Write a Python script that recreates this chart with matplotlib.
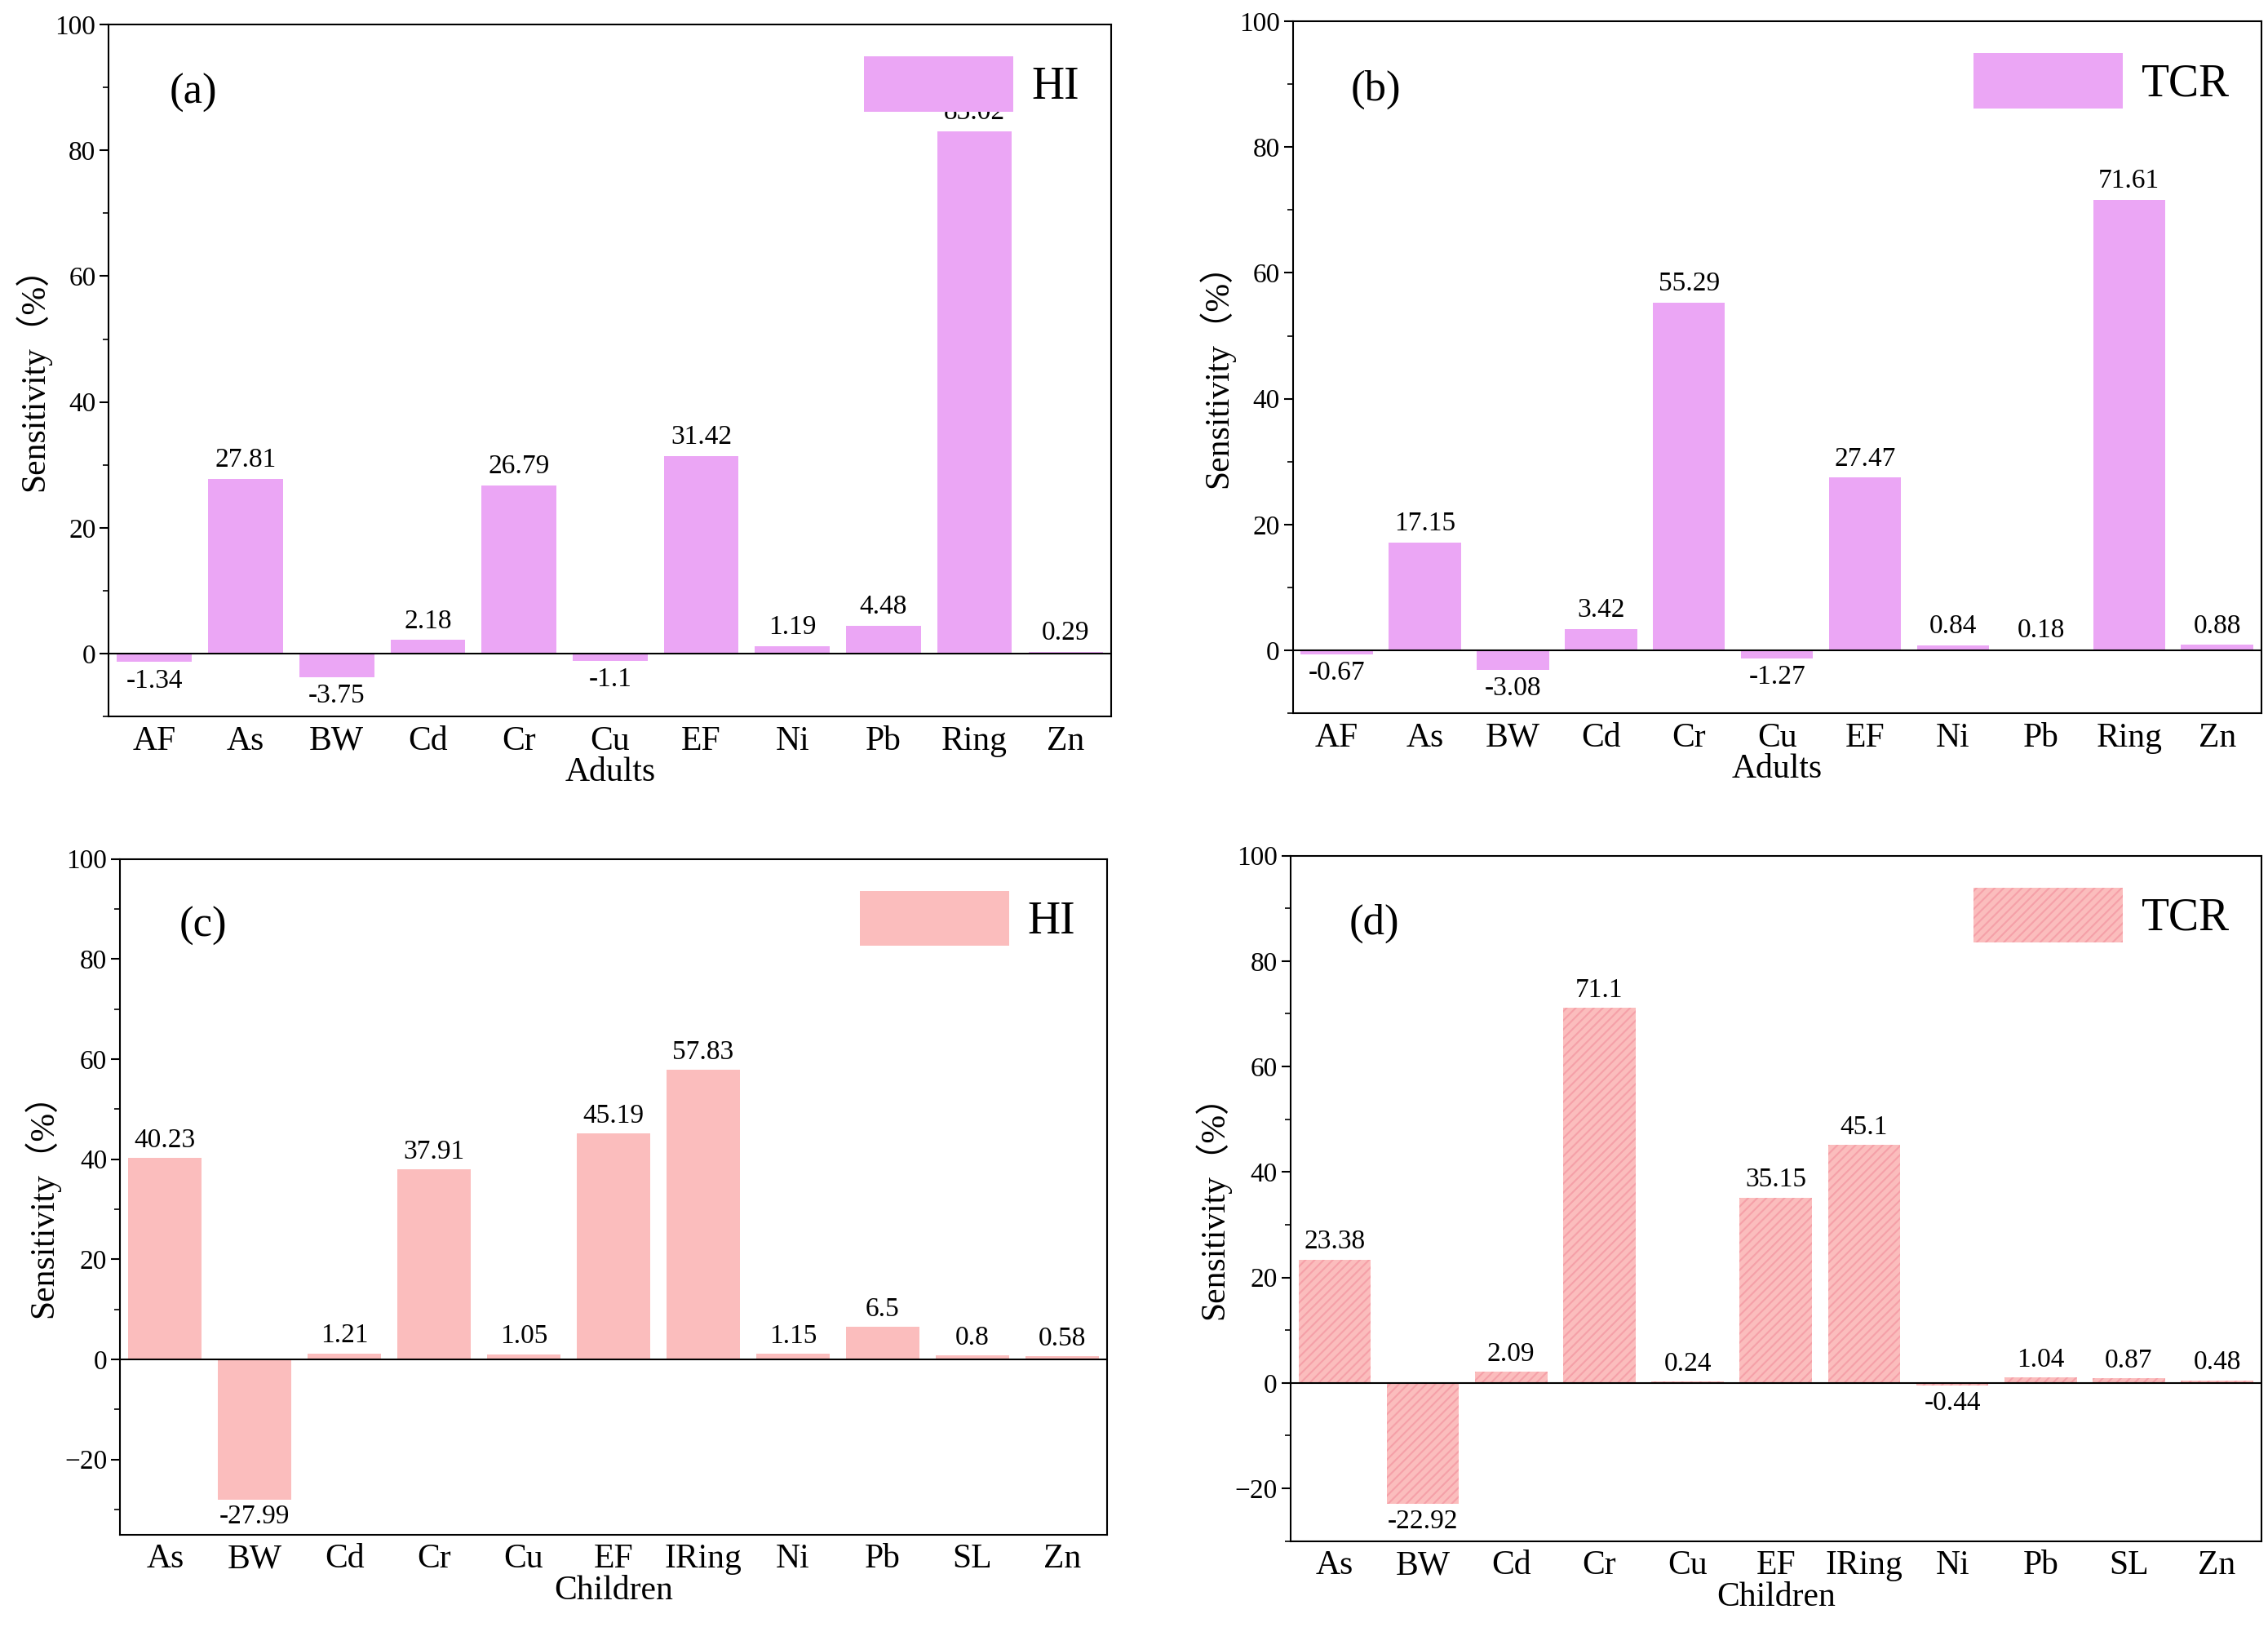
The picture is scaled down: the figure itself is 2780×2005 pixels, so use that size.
import matplotlib
matplotlib.use("Agg")
import matplotlib.pyplot as plt
from matplotlib.ticker import MultipleLocator

plt.rcParams['font.family'] = ['Liberation Serif', 'Noto Sans CJK SC', 'DejaVu Serif']
plt.rcParams['hatch.linewidth'] = 1.5

cats_a = ["AF", "As", "BW", "Cd", "Cr", "Cu", "EF", "Ni", "Pb", "Ring", "Zn"]
vals_a = [-1.34, 27.81, -3.75, 2.18, 26.79, -1.1, 31.42, 1.19, 4.48, 83.02, 0.29]
vals_b = [-0.67, 17.15, -3.08, 3.42, 55.29, -1.27, 27.47, 0.84, 0.18, 71.61, 0.88]
cats_c = ["As", "BW", "Cd", "Cr", "Cu", "EF", "IRing", "Ni", "Pb", "SL", "Zn"]
vals_c = [40.23, -27.99, 1.21, 37.91, 1.05, 45.19, 57.83, 1.15, 6.5, 0.8, 0.58]
vals_d = [23.38, -22.92, 2.09, 71.1, 0.24, 35.15, 45.1, -0.44, 1.04, 0.87, 0.48]

violet = '#EBA6F5'
pink = '#FBBDBD'

fig = plt.figure(figsize=(27.8, 20.05), dpi=100)
panels = [
    ([0.048, 0.562, 0.442, 0.423], cats_a, vals_a, violet, None, "HI", "(a)", "Adults", -10, 100),
    ([0.570, 0.564, 0.427, 0.423], cats_a, vals_b, violet, None, "TCR", "(b)", "Adults", -10, 100),
    ([0.053, 0.062, 0.435, 0.413], cats_c, vals_c, pink, None, "HI", "(c)", "Children", -35, 100),
    ([0.569, 0.058, 0.428, 0.419], cats_c, vals_d, pink, '///', "TCR", "(d)", "Children", -30, 100),
]
for rect, cats, vals, col, hatch, lab, letter, xl, ymin, ymax in panels:
    ax = fig.add_axes(rect)
    x = range(len(cats))
    ax.bar(x, vals, width=0.82, color=col, hatch=hatch,
           edgecolor='#F5A0A8' if hatch else col, linewidth=0, label=lab)
    ax.axhline(0, color='black', lw=1.5)
    ax.set_xlim(-0.5, len(cats) - 0.5)
    ax.set_ylim(ymin, ymax)
    ax.set_xticks(list(x))
    ax.set_xticklabels(cats, fontsize=30)
    ax.yaxis.set_major_locator(MultipleLocator(20))
    ax.yaxis.set_minor_locator(MultipleLocator(10))
    ax.tick_params(axis='y', labelsize=24, length=8, width=1.5, direction='out')
    ax.tick_params(axis='y', which='minor', length=5, width=1.2)
    ax.tick_params(axis='x', length=0, pad=8)
    for s in ax.spines.values():
        s.set_linewidth(1.5)
    ax.set_ylabel("Sensitivity（%）", fontsize=30)
    ax.set_xlabel(xl, fontsize=30, labelpad=0)
    for xi, v in zip(x, vals):
        txt = f"{v:g}"
        if v >= 0:
            ax.text(xi, v + 1.0, txt, ha='center', va='bottom', fontsize=24)
        else:
            ax.text(xi, v - 1.0, txt, ha='center', va='top', fontsize=24)
    ax.text(0.06, 0.93, letter, transform=ax.transAxes, fontsize=38, va='top')
    ax.legend(loc='upper right', fontsize=40, frameon=False, handlelength=3.3,
              handleheight=1.5, borderaxespad=0.3, handletextpad=0.4)
plt.savefig("out.png", dpi=100)
